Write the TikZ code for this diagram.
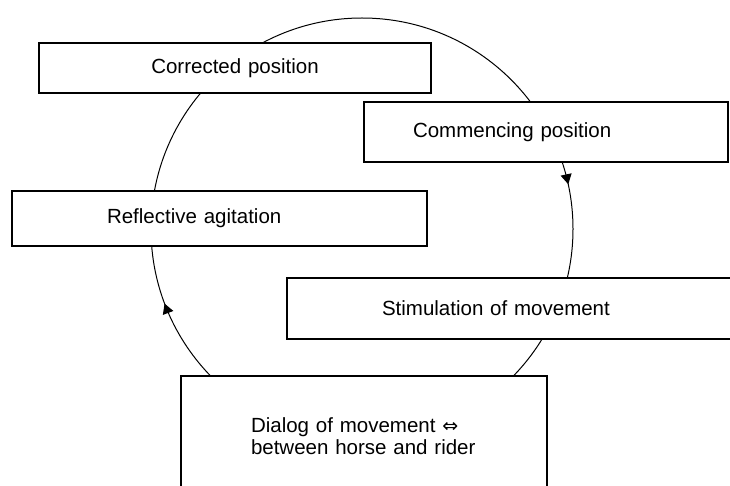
\documentclass[tikz,border=0pt]{standalone}
\usepackage{fontspec}
\setmainfont{Liberation Sans}
\newfontfamily\arrowfont{DejaVu Sans}
\usetikzlibrary{arrows.meta,decorations.markings}

\newcommand{\dialogsign}{{\arrowfont\fontsize{19}{22}\selectfont ⇔}}

\begin{document}
\begin{tikzpicture}
	[x=1pt, y=-1pt, line width=1.3pt,
	stage/.style={draw, fill=white, align=left, inner ysep=0pt,
		font=\fontsize{20.5}{22}\selectfont},
	turn/.style={line width=1pt, postaction={decorate}, decoration={markings,
		mark=at position 0.216 with {\arrow{Triangle[length=10pt,width=11pt]}},
		mark=at position 0.6925 with {\arrow{Triangle[length=10pt,width=11pt]}}}}]
	\useasboundingbox (0,0) rectangle (730,486);
	\clip (0,0) rectangle (730,486);
	% the cycle, behind the boxes
	\coordinate (hub) at (362,229);
	\draw[turn] (hub) ++(0,-211) arc[start angle=-90, end angle=270, radius=211];
	% boxes
	\node[stage, align=center, text width=352pt, inner xsep=20pt, minimum height=50pt]
		(corrected) at (235,68) {Corrected position};
	\node[stage, text width=266pt, inner xsep=49pt, minimum height=60pt]
		(commencing) at (546,132) {Commencing position};
	\node[stage, text width=225pt, inner xsep=95pt, minimum height=55pt]
		(reflective) at (219.5,218.5) {Reflective agitation};
	\node[stage, text width=283pt, inner xsep=95pt, minimum height=61pt]
		(stimulation) at (523.5,308.5) {Stimulation of movement};
	\node[stage, text width=226pt, inner xsep=70pt, minimum height=120pt]
		(dialog) at (364,436) {Dialog of movement \dialogsign\\ between horse and rider};
\end{tikzpicture}
\end{document}
